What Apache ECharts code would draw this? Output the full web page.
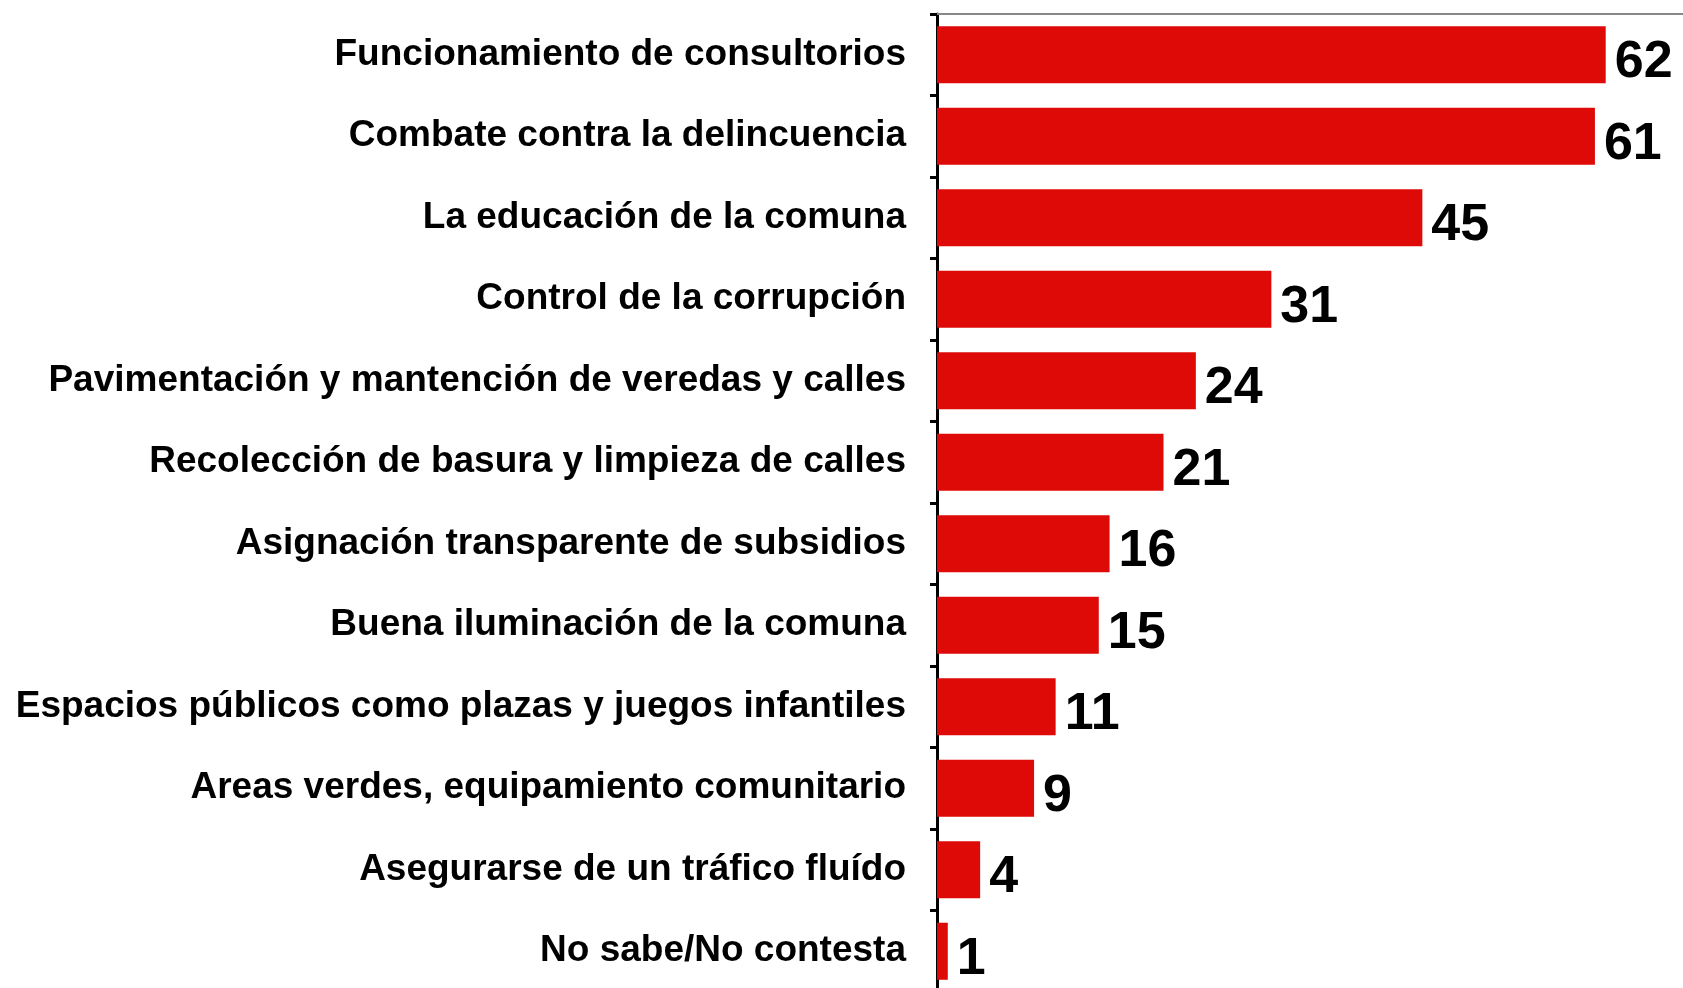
<!DOCTYPE html>
<html>
<head>
<meta charset="utf-8">
<script src="https://cdn.jsdelivr.net/npm/echarts@6/dist/echarts.min.js"></script>
<style>
html,body{margin:0;padding:0;background:#fff;}
#chart{width:1683px;height:988px;}
</style>
</head>
<body>
<div id="chart"></div>
<script>
const categories = [
  "Funcionamiento de consultorios",
  "Combate contra la delincuencia",
  "La educación de la comuna",
  "Control de la corrupción",
  "Pavimentación y mantención de veredas y calles",
  "Recolección de basura y limpieza de calles",
  "Asignación transparente de subsidios",
  "Buena iluminación de la comuna",
  "Espacios públicos como plazas y juegos infantiles",
  "Areas verdes, equipamiento comunitario",
  "Asegurarse de un tráfico fluído",
  "No sabe/No contesta"
];
const values = [62, 61, 45, 31, 24, 21, 16, 15, 11, 9, 4, 1];

const chart = echarts.init(document.getElementById('chart'), null, {renderer: 'canvas'});
chart.setOption({
  animation: false,
  backgroundColor: '#ffffff',
  grid: {left: 937, top: 14, width: 755, height: 978, containLabel: false, outerBoundsMode: 'none'},
  xAxis: {
    type: 'value',
    position: 'top',
    min: 0,
    max: 70,
    axisLine: {show: true, lineStyle: {color: '#888888', width: 2}},
    axisTick: {show: false},
    axisLabel: {show: false},
    splitLine: {show: false}
  },
  yAxis: {
    type: 'category',
    data: categories,
    inverse: true,
    axisLine: {show: true, lineStyle: {color: '#000000', width: 3}},
    axisTick: {show: true, length: 7, lineStyle: {color: '#000000', width: 3}},
    axisLabel: {
      margin: 31,
      color: '#000000',
      fontFamily: 'Liberation Sans, Arial, sans-serif',
      fontWeight: 'bold',
      fontSize: 37,
      padding: [10, 0, 0, 0]
    }
  },
  series: [{
    type: 'bar',
    data: values,
    barCategoryGap: '30%',
    itemStyle: {color: '#dd0a07'},
    label: {
      show: true,
      position: 'right',
      distance: 9,
      offset: [0, 8],
      color: '#000000',
      fontFamily: 'Liberation Sans, Arial, sans-serif',
      fontWeight: 'bold',
      fontSize: 52
    }
  }]
});
</script>
</body>
</html>
